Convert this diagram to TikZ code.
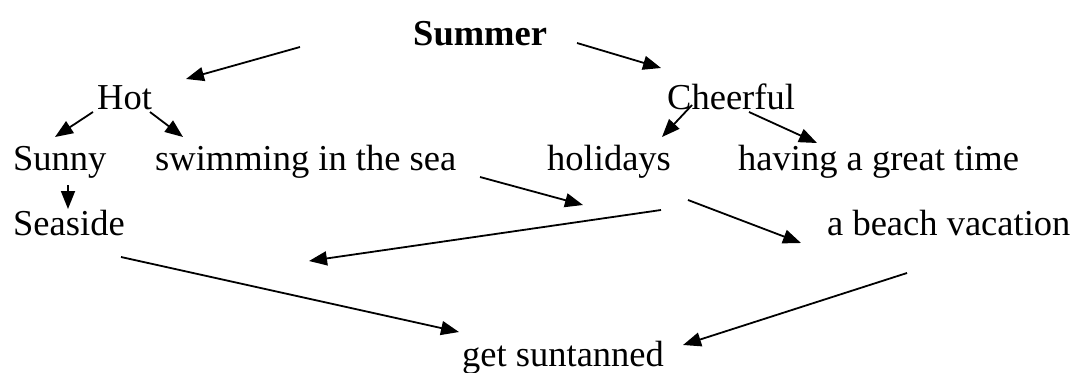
\documentclass[tikz,border=0pt]{standalone}
\usepackage{fontspec}
\setmainfont{Liberation Serif}
\usetikzlibrary{arrows.meta}

\tikzset{
  word/.style={anchor=base west, inner sep=0pt, font=\fontsize{36.5}{40}\selectfont},
  link/.style={line width=1.8pt, -{Triangle[length=18pt,width=14pt]}},
}

\begin{document}
\begin{tikzpicture}[x=1pt, y=-1pt]
  \useasboundingbox (0,0) rectangle (1078,372);

  % words
  \node[word, font=\fontsize{36.5}{40}\selectfont\bfseries] (summer) at (413,45) {Summer};
  \node[word] (hot)      at (97,109)  {Hot};
  \node[word] (cheerful) at (667,109) {Cheerful};
  \node[word] (sunny)    at (13,170)  {Sunny};
  \node[word] (swim)     at (155,170) {swimming in the sea};
  \node[word] (holidays) at (547,170) {holidays};
  \node[word] (having)   at (738,170) {having a great time};
  \node[word] (seaside)  at (13,235)  {Seaside};
  \node[word] (beach)    at (827,235) {a beach vacation};
  \node[word] (tan)      at (462,366) {get suntanned};

  % arrow ends
  \coordinate (s1) at (300,47);  \coordinate (e1) at (186,79);
  \coordinate (s2) at (577,43);  \coordinate (e2) at (661,68);
  \coordinate (s3) at (93,112);  \coordinate (e3) at (55,137);
  \coordinate (s4) at (150,112); \coordinate (e4) at (183,137);
  \coordinate (s5) at (68,185);  \coordinate (e5) at (68,209);
  \coordinate (s6) at (692,105); \coordinate (e6) at (662,137);
  \coordinate (s7) at (749,112); \coordinate (e7) at (817,143);
  \coordinate (s8) at (480,177); \coordinate (e8) at (583,205);
  \coordinate (s9) at (661,210); \coordinate (e9) at (309,261);
  \coordinate (s10) at (688,200); \coordinate (e10) at (801,243);
  \coordinate (s11) at (121,257); \coordinate (e11) at (459,332);
  \coordinate (s12) at (907,273); \coordinate (e12) at (683,345);

  % arrows
  \foreach \i in {1,...,12}
    \draw[link] (s\i) -- (e\i);
\end{tikzpicture}
\end{document}
